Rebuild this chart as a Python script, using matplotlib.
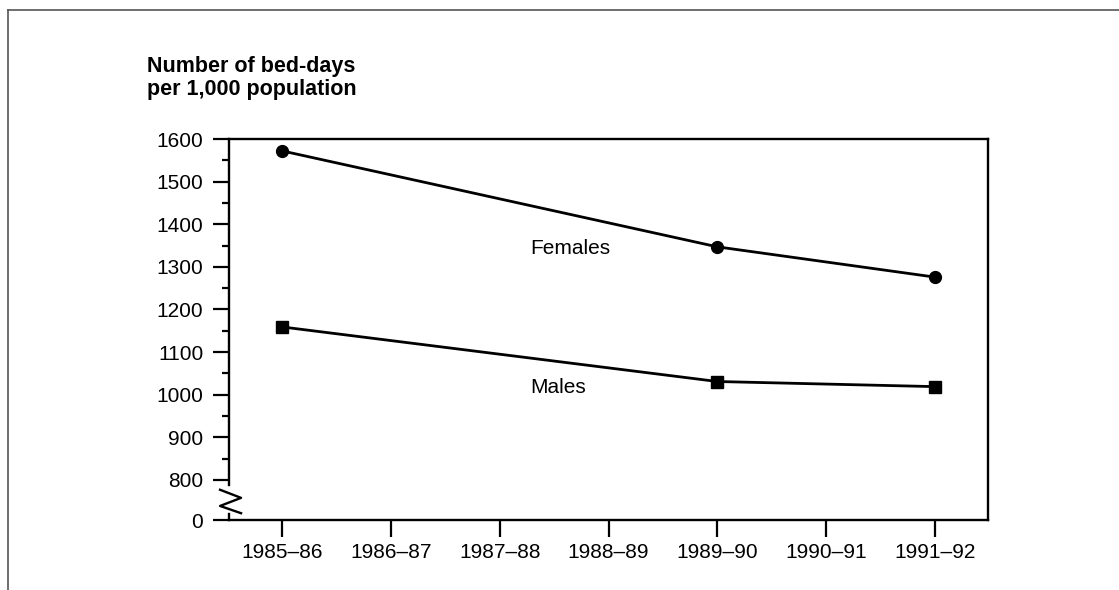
import matplotlib
matplotlib.use("Agg")
import matplotlib.pyplot as plt
from matplotlib.lines import Line2D
from matplotlib.ticker import FixedLocator

INK = "#000000"
FRAME = "#555555"
plt.rcParams.update({"font.family": ["Liberation Sans", "DejaVu Sans"],
                     "font.size": 15, "text.color": INK})

years = ["1985–86", "1986–87", "1987–88", "1988–89", "1989–90", "1990–91", "1991–92"]
obs_idx = [0, 4, 6]
females = [1572, 1347, 1276]
males = [1159, 1031, 1019]
y_major = [800, 900, 1000, 1100, 1200, 1300, 1400, 1500, 1600]
y_minor = [850, 950, 1050, 1150, 1250, 1350, 1450, 1550]
Y_ZERO = 706   # where the broken axis puts "0"

fig = plt.figure(figsize=(11.19, 5.9), dpi=100)
ax = fig.add_axes([0.2047, 0.1186, 0.6783, 0.6458])

ax.plot(obs_idx, females, color=INK, lw=2, marker="o", ms=8.5, clip_on=False)
ax.plot(obs_idx, males, color=INK, lw=2, marker="s", ms=8, clip_on=False)
ax.text(2.28, 1344, "Females", ha="left", va="center")
ax.text(2.28, 1016, "Males", ha="left", va="center")

ax.set_xlim(-0.49, 6.49)
ax.set_ylim(Y_ZERO, 1600)
ax.set_xticks(range(len(years)))
ax.set_xticklabels(years)
ax.set_yticks([Y_ZERO] + y_major)
ax.set_yticklabels(["0"] + [str(v) for v in y_major])
ax.yaxis.set_minor_locator(FixedLocator(y_minor))

ax.tick_params(axis="y", which="major", direction="out", length=11.5, width=1.6, pad=7)
ax.tick_params(axis="y", which="minor", direction="out", length=5, width=1.6)
ax.tick_params(axis="x", which="major", direction="out", length=12.5, width=1.6, pad=4)
for s in ax.spines.values():
    s.set_linewidth(1.7)

# broken y axis: spine stops above the zigzag, short stub at zero
ax.spines["left"].set_bounds(788, 1600)
tr = ax.get_yaxis_transform()
px = 1 / 759.0
ax.add_line(Line2D([0, 0], [Y_ZERO, 719], transform=tr, color=INK, lw=1.7, clip_on=False))
ax.add_line(Line2D([-9 * px, 12 * px, -9 * px, 12 * px], [777, 758, 739, 722],
                   transform=tr, color=INK, lw=1.7, clip_on=False))

fig.text(0.131, 1 - 72 / 590, "Number of bed-days", fontweight="bold",
         fontsize=15.5, ha="left", va="baseline")
fig.text(0.131, 1 - 95 / 590, "per 1,000 population", fontweight="bold",
         fontsize=15.5, ha="left", va="baseline")

# page frame: top and left edges only
fig.add_artist(Line2D([0.00715, 1.0], [0.983, 0.983], transform=fig.transFigure,
                      color=FRAME, lw=1.2))
fig.add_artist(Line2D([0.00715, 0.00715], [0.0, 0.983], transform=fig.transFigure,
                      color=FRAME, lw=1.2))

fig.savefig("out.png", dpi=100)
